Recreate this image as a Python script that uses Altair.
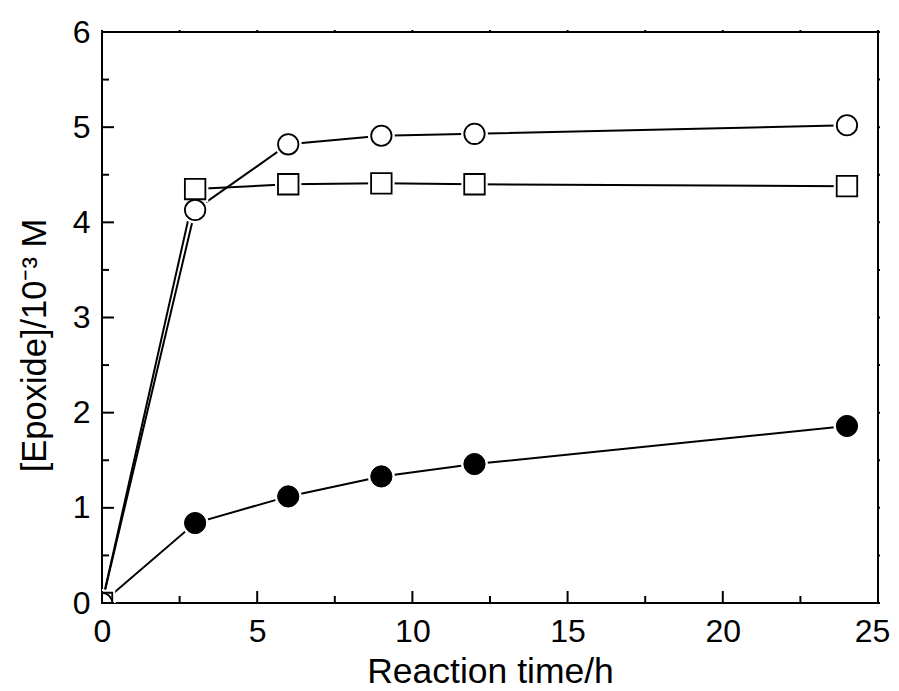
import altair as alt
import pandas as pd

# ---- data ----
time_h = [0, 3, 6, 9, 12, 24]
open_circle = [0.0, 4.13, 4.82, 4.91, 4.93, 5.02]
open_square = [0.0, 4.35, 4.40, 4.41, 4.40, 4.38]
filled_circle = [0.0, 0.84, 1.12, 1.33, 1.46, 1.86]

x_major = [0, 5, 10, 15, 20, 25]
x_minor = [2.5, 7.5, 12.5, 17.5, 22.5]
y_major = [0, 1, 2, 3, 4, 5, 6]
y_minor = [0.5, 1.5, 2.5, 3.5, 4.5, 5.5]

W, H = 776, 571
FONT = "Liberation Sans"

df = pd.DataFrame({
    "t": time_h * 3,
    "v": open_circle + open_square + filled_circle,
    "s": ["oc"] * 6 + ["sq"] * 6 + ["fc"] * 6,
})

xs = alt.Scale(domain=[0, 25], nice=False, zero=False)
ys = alt.Scale(domain=[0, 6], nice=False, zero=False)

x_axis = alt.Axis(values=x_major, ticks=False, domain=False, grid=False,
                  labelFontSize=32, labelFont=FONT, labelColor="black",
                  labelPadding=13, labelFlush=False, labelOverlap=False,
                  labelOffset={"expr": "datum.value == 25 ? -6 : 0"},
                  format="d", title="Reaction time/h", titleFont=FONT,
                  titleFontSize=35.5, titleFontWeight="normal", titleColor="black",
                  titlePadding=7)
y_axis = alt.Axis(values=y_major, ticks=False, domain=False, grid=False,
                  labelFontSize=32, labelFont=FONT, labelColor="black",
                  labelPadding=12, labelFlush=False, labelOverlap=False,
                  format="d", title="[Epoxide]/10⁻³ M", titleFont=FONT,
                  titleFontSize=34.5, titleFontWeight="normal", titleColor="black",
                  titleX=-50, titleY=313, titleAngle=270)


def X(field):
    return alt.X(f"{field}:Q", scale=xs, axis=x_axis, title="Reaction time/h")


def Y(field):
    return alt.Y(f"{field}:Q", scale=ys, axis=y_axis, title="[Epoxide]/10⁻³ M")


base = alt.Chart(df)


def enc(ch):
    return ch.encode(x=X("t"), y=Y("v"))


lines = enc(base.mark_line(color="black", strokeWidth=2, clip=True)).encode(
    detail="s:N")

halo_c = enc(base.transform_filter("datum.s != 'sq'").mark_point(
    shape="circle", filled=True, fill="white", strokeWidth=0, opacity=1,
    size=720, clip=True))
halo_s = enc(base.transform_filter("datum.s == 'sq'").mark_point(
    shape="square", filled=True, fill="white", strokeWidth=0, opacity=1,
    size=700, clip=True))

m_oc = enc(base.transform_filter("datum.s == 'oc'").mark_point(
    shape="circle", filled=True, fill="white", stroke="black", strokeWidth=1.8,
    opacity=1, size=415, clip=True))
m_sq = enc(base.transform_filter("datum.s == 'sq'").mark_point(
    shape="square", filled=True, fill="white", stroke="black", strokeWidth=1.8,
    opacity=1, size=420, clip=True))
m_fc = enc(base.transform_filter("datum.s == 'fc'").mark_point(
    shape="circle", filled=True, fill="black", stroke="black", strokeWidth=1,
    opacity=1, size=450, clip=True))


# inward ticks
def xticks(vals, y0, y1):
    return alt.Chart(pd.DataFrame({"t": vals})).mark_rule(
        color="black", strokeWidth=2).encode(
        x=X("t"), y=alt.value(y0), y2=alt.value(y1))


def yticks(vals, x0, x1):
    return alt.Chart(pd.DataFrame({"v": vals})).mark_rule(
        color="black", strokeWidth=2).encode(
        y=Y("v"), x=alt.value(x0), x2=alt.value(x1))


ticks = [
    xticks(x_major, H, H - 12),
    xticks(x_minor, H, H - 7),
    yticks(y_major, 0, 12),
    yticks(y_minor, 0, 7),
    xticks(x_minor + x_major, 0, -2),
    yticks(y_minor + y_major, W, W + 2),
]

chart = alt.layer(
    lines, halo_c, halo_s, m_fc, m_sq, m_oc, *ticks
).properties(
    width=W, height=H,
    autosize=alt.AutoSizeParams(type="none"),
    padding={"left": 94, "top": 24, "right": 13, "bottom": 86},
    background="white",
).configure_view(stroke="black", strokeWidth=2)

chart.save("out.html", embed_options={"renderer": "svg", "actions": False})
